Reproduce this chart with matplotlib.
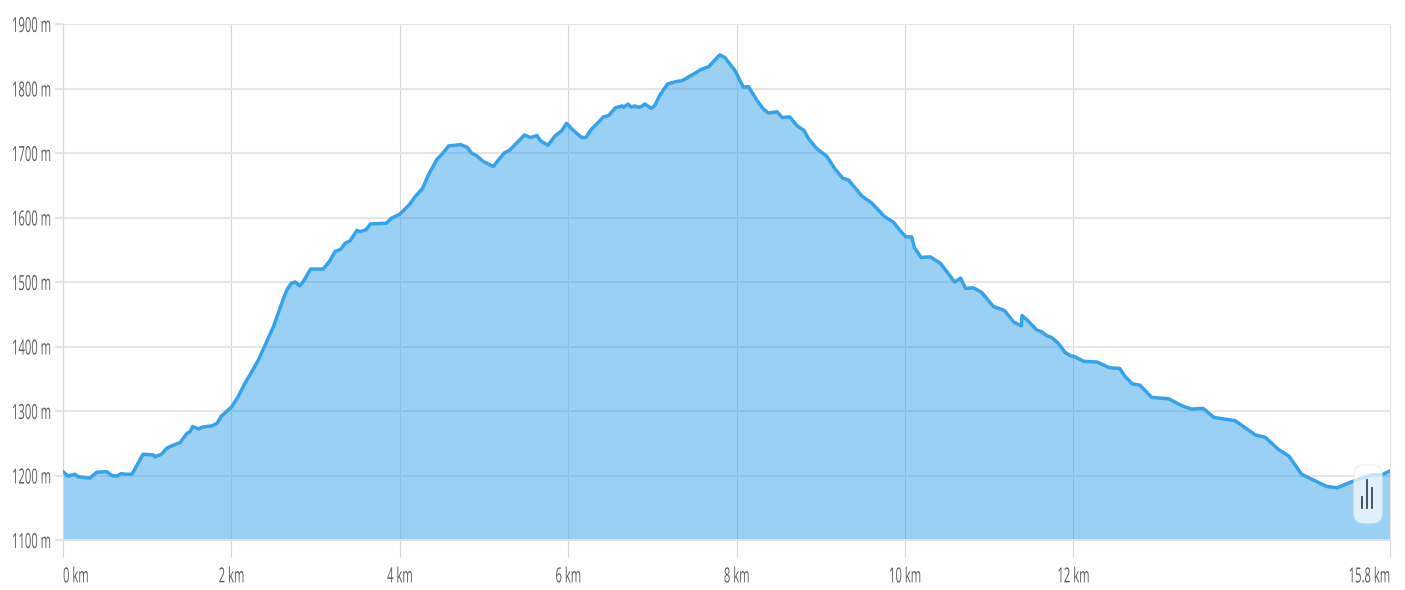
import matplotlib
matplotlib.use("Agg")
import matplotlib.pyplot as plt
from matplotlib.patches import FancyBboxPatch
from matplotlib.patheffects import AbstractPathEffect
from matplotlib.transforms import Affine2D, IdentityTransform

# elevation profile
km = [0.00, 0.06, 0.14, 0.18, 0.32, 0.40, 0.52, 0.58, 0.64, 0.69, 0.74, 0.82, 0.95, 1.07, 1.09, 1.17,
      1.23, 1.29, 1.39, 1.47, 1.51, 1.54, 1.61, 1.65, 1.77, 1.83, 1.88, 2.00, 2.08, 2.16, 2.23, 2.32,
      2.40, 2.50, 2.62, 2.66, 2.71, 2.76, 2.81, 2.85, 2.94, 3.09, 3.17, 3.23, 3.30, 3.35, 3.41, 3.49,
      3.53, 3.60, 3.65, 3.84, 3.90, 4.00, 4.12, 4.18, 4.27, 4.34, 4.44, 4.50, 4.58, 4.72, 4.80, 4.85,
      4.91, 4.99, 5.11, 5.17, 5.24, 5.30, 5.43, 5.48, 5.55, 5.63, 5.67, 5.76, 5.84, 5.92, 5.98, 6.06,
      6.16, 6.21, 6.27, 6.42, 6.48, 6.56, 6.64, 6.66, 6.71, 6.75, 6.79, 6.83, 6.87, 6.91, 6.99, 7.03,
      7.09, 7.18, 7.29, 7.35, 7.51, 7.57, 7.67, 7.74, 7.80, 7.86, 7.98, 8.08, 8.14, 8.25, 8.32, 8.38,
      8.48, 8.54, 8.63, 8.72, 8.80, 8.85, 8.95, 9.07, 9.17, 9.26, 9.33, 9.49, 9.60, 9.76, 9.86, 9.94,
      10.01, 10.08, 10.11, 10.19, 10.30, 10.42, 10.59, 10.66, 10.72, 10.81, 10.91, 11.05, 11.18, 11.29,
      11.38, 11.39, 11.46, 11.56, 11.62, 11.68, 11.74, 11.82, 11.90, 11.96, 12.02, 12.12, 12.28, 12.43,
      12.55, 12.61, 12.70, 12.79, 12.93, 13.13, 13.29, 13.40, 13.54, 13.67, 13.92, 14.16, 14.28, 14.43,
      14.56, 14.71, 14.85, 15.01, 15.13, 15.30, 15.54, 15.66, 15.76]
elevation = [1206, 1199, 1202, 1198, 1196, 1205, 1206, 1200, 1199, 1203, 1202, 1202, 1233, 1232, 1229, 1233,
             1242, 1246, 1251, 1265, 1268, 1276, 1272, 1275, 1277, 1281, 1292, 1306, 1322, 1343, 1358, 1379,
             1402, 1431, 1475, 1488, 1498, 1500, 1494, 1500, 1520, 1520, 1533, 1547, 1551, 1560, 1564, 1580,
             1578, 1581, 1590, 1591, 1599, 1605, 1621, 1632, 1645, 1666, 1690, 1698, 1711, 1713, 1709, 1700,
             1696, 1687, 1679, 1689, 1700, 1704, 1721, 1728, 1724, 1727, 1719, 1712, 1726, 1734, 1746, 1735,
             1724, 1724, 1736, 1756, 1758, 1770, 1773, 1771, 1776, 1771, 1773, 1771, 1772, 1776, 1769, 1774,
             1790, 1807, 1811, 1812, 1824, 1829, 1834, 1844, 1852, 1848, 1828, 1802, 1803, 1780, 1768, 1762,
             1764, 1755, 1756, 1742, 1735, 1723, 1707, 1695, 1675, 1661, 1658, 1633, 1623, 1601, 1593, 1580,
             1570, 1570, 1554, 1538, 1539, 1529, 1500, 1506, 1490, 1491, 1484, 1462, 1456, 1438,
             1432, 1448, 1440, 1426, 1423, 1417, 1414, 1405, 1391, 1386, 1384, 1377, 1376, 1367,
             1366, 1354, 1342, 1340, 1321, 1319, 1308, 1303, 1304, 1290, 1285, 1263, 1259, 1241,
             1230, 1202, 1193, 1183, 1181, 1190, 1201, 1201, 1207]

x_ticks = [0, 2, 4, 6, 8, 10, 12, 15.76]
x_labels = ["0 km", "2 km", "4 km", "6 km", "8 km", "10 km", "12 km", "15.8 km"]
y_ticks = [1100, 1200, 1300, 1400, 1500, 1600, 1700, 1800, 1900]
y_labels = [f"{v} m" for v in y_ticks]

W, H = 1405, 590
LEFT, RIGHT, TOP, BOTTOM = 63, 1390, 24, 540
SQUEEZE = 0.54  # the reference text is very condensed, no such font is installed


class Squeeze(AbstractPathEffect):
    # narrows text horizontally around a fixed pixel column
    def __init__(self, anchor):
        super().__init__()
        self.anchor = anchor

    def draw_path(self, renderer, gc, tpath, affine, rgbFace=None):
        squeeze = Affine2D().translate(-self.anchor, 0).scale(SQUEEZE, 1).translate(self.anchor, 0)
        renderer.draw_path(gc, tpath, affine + squeeze, rgbFace)


plt.rcParams["font.family"] = ["Open Sans"]

fig = plt.figure(figsize=(W / 100, H / 100), dpi=100)
ax = fig.add_axes([LEFT / W, 1 - BOTTOM / H, (RIGHT - LEFT) / W, (BOTTOM - TOP) / H])
ax.set_xlim(0, 15.76)
ax.set_ylim(1100, 1900)

# grid sits under the see-through fill
ax.set_axisbelow(True)
ax.grid(axis="y", color="#e6e6e6", lw=1.5)
ax.grid(axis="x", color="#d8d8d8", lw=0.8)
ax.fill_between(km, elevation, 1100, color="#36a2eb", alpha=0.5, lw=0, zorder=2)
ax.plot(km, elevation, color="#36a2eb", lw=2.5, zorder=3, solid_joinstyle="round")

ax.spines["top"].set_visible(False)
ax.spines["right"].set_color("#e6e6e6")
ax.spines["left"].set_color("#d8d8d8")
ax.spines["bottom"].set_color("#e0e0e0")
ax.spines["bottom"].set_linewidth(1.5)

ax.set_xticks(x_ticks, x_labels)
ax.set_yticks(y_ticks, y_labels)
ax.tick_params(axis="x", length=12, width=0.8, color="#d8d8d8", labelcolor="#5f5f5f", labelsize=15, pad=7)
ax.tick_params(axis="y", length=6, width=1.5, color="#e6e6e6", labelcolor="#5f5f5f", labelsize=15,
               pad=(LEFT - 12) * 0.72 - 6)

# squeeze each label around the spot it has to stay at
xl = ax.get_xticklabels()
xl[0].set_ha("left")
xl[-1].set_ha("right")
for lab, t in zip(xl, x_ticks):
    lab.set_path_effects([Squeeze(LEFT + t * (RIGHT - LEFT) / 15.76)])
for lab in ax.get_yticklabels():
    lab.set_ha("left")
    lab.set_path_effects([Squeeze(12)])

# little chart-toggle button in the bottom right corner
button = FancyBboxPatch((1354, H - 523), 28, 58, boxstyle="round,pad=0,rounding_size=10",
                        transform=IdentityTransform(), fc="white", ec="#e8eef2", lw=1, alpha=0.7, zorder=5)
fig.add_artist(button)
for bx, top in [(1362.3, 497), (1367.3, 480), (1372.3, 488)]:
    fig.add_artist(plt.Line2D([bx / W, bx / W], [1 - top / H, 1 - 508 / H], color="#3a4a50", lw=1.3, zorder=6))

fig.savefig("out.png", dpi=100)
